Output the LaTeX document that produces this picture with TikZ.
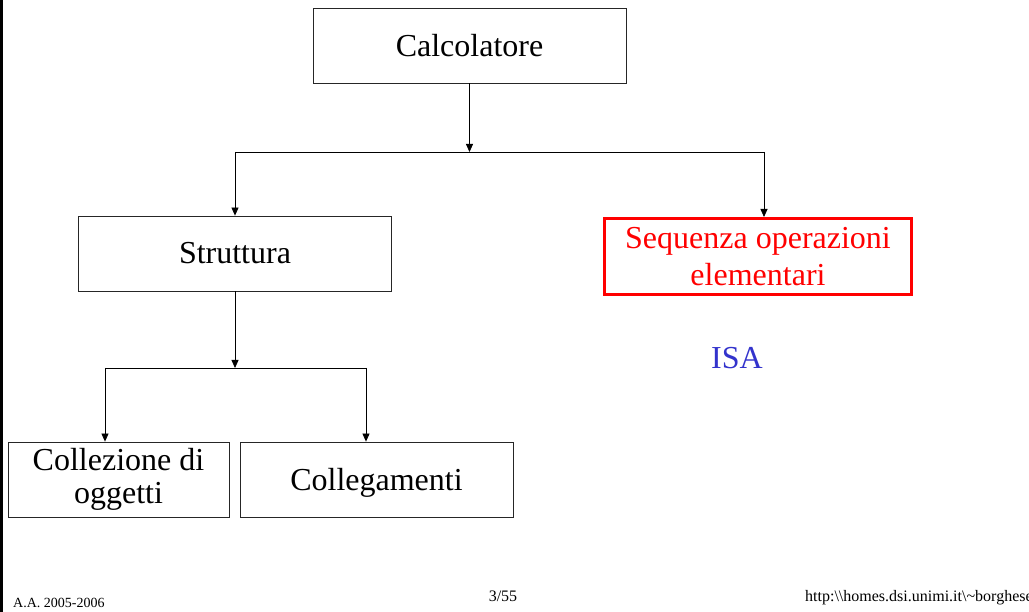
\documentclass[tikz,border=0pt]{standalone}
\usepackage{fontspec}
\setmainfont{Liberation Serif}
\usetikzlibrary{arrows.meta}
\definecolor{isablue}{RGB}{51,51,204}
\tikzset{
  box/.style={draw=black!85, line width=0.8pt, inner sep=0pt, align=center,
    font=\fontsize{32}{37}\selectfont},
  redbox/.style={box, draw=red, line width=3pt, text=red},
  link/.style={line width=0.8pt, -{Triangle[length=8pt,width=7pt]}},
  foot/.style={font=\fontsize{14}{16}\selectfont, inner sep=0pt}
}

\begin{document}
\begin{tikzpicture}[x=1pt,y=-1pt]
        \useasboundingbox (0,0) rectangle (1029,612);
        \draw[line width=3pt] (1.5,0) -- (1.5,612);
        % Top level
        \node[box, minimum width=313pt, minimum height=75pt] (calc) at (469.5,45.5) {Calcolatore};
        \coordinate (top) at (calc.south |- 0,152);
        \coordinate (topl) at (235,152);
        \coordinate (topr) at (764,152);
        \draw[link] (calc.south) -- (top);
        \draw[line width=0.8pt] (topl) -- (topr);

        % Second level
        \node[box, minimum width=313pt, minimum height=75pt] (strutt) at (235,253.5) {Struttura};
        \node[redbox, minimum width=307pt, minimum height=76pt] (seq) at (758,256.5) {Sequenza operazioni\\elementari};
        \draw[link] (topl) -- (strutt.north);
        \draw[link] (topr) -- (topr |- seq.north);
        \node[font=\fontsize{32}{37}\selectfont, text=isablue, inner sep=0pt, anchor=base] (isa) at (737,369) {ISA};

        % Third level
        \coordinate (mid) at (strutt.south |- 0,368);
        \coordinate (midl) at (105,368);
        \coordinate (midr) at (366,368);
        \draw[link] (strutt.south) -- (mid);
        \draw[line width=0.8pt] (midl) -- (midr);
        \node[box, font=\fontsize{32}{33}\selectfont, minimum width=221pt, minimum height=75pt] (coll) at (118.5,479.5) {Collezione di\\oggetti};
        \node[box, minimum width=273pt, minimum height=75pt, text depth=0pt] (conn) at (376.5,479.5) {Collegamenti};
        \draw[link] (midl) -- (midl |- coll.north);
        \draw[link] (midr) -- (midr |- conn.north);

        % Footer
        \node[foot, anchor=base west] (year) at (13,607) {A.A. 2005-2006};
        \node[foot, font=\fontsize{16}{18}\selectfont, anchor=base] (page) at (503,601) {3/55};
        \node[foot, font=\fontsize{16}{18}\selectfont, anchor=base west] (url) at (805,601) {http:\textbackslash\textbackslash homes.dsi.unimi.it\textbackslash\textasciitilde borghese};
      \end{tikzpicture}
\end{document}
